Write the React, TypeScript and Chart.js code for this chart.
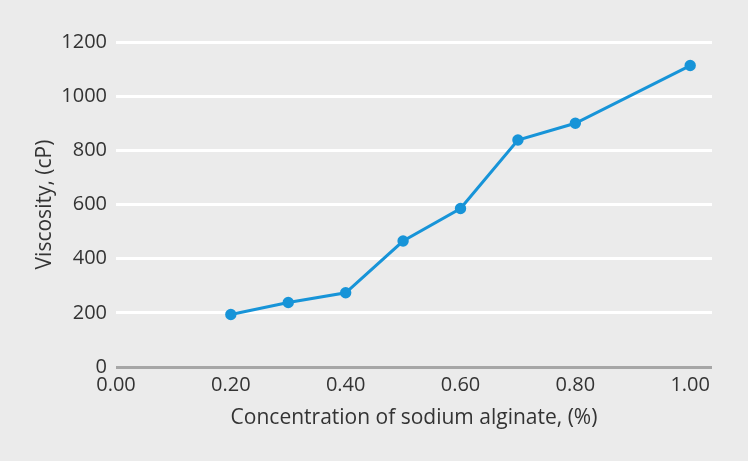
import React, { useEffect, useRef } from "react";
import { Chart, registerables } from "chart.js";

Chart.register(...registerables);

const concentrations = [0.2, 0.3, 0.4, 0.5, 0.6, 0.7, 0.8, 1.0];
const viscosity = [194, 238, 274, 465, 585, 838, 900, 1113];
const xTicks = [0, 0.2, 0.4, 0.6, 0.8, 1.0];
const yTicks = [0, 200, 400, 600, 800, 1000, 1200];

const FONT = "'Open Sans', sans-serif";

export default function App() {
  const ref = useRef<HTMLCanvasElement | null>(null);
  useEffect(() => {
    document.body.style.margin = "0";
    const bg = {
      id: "bg",
      beforeDraw(chart: any) {
        const c = chart.ctx;
        c.save();
        c.fillStyle = "#ebebeb";
        c.fillRect(0, 0, chart.width, chart.height);
        c.restore();
      },
    };
    const chart = new Chart(ref.current as HTMLCanvasElement, {
      type: "line",
      data: {
        datasets: [
          {
            data: concentrations.map((x, i) => ({ x, y: viscosity[i] })),
            borderColor: "#1794d8",
            backgroundColor: "#1794d8",
            borderWidth: 3,
            pointRadius: 4.2,
            pointHoverRadius: 4.2,
            tension: 0,
          },
        ],
      },
      options: {
        animation: false,
        responsive: false,
        layout: { padding: { top: 42, right: 36, left: 0, bottom: 0 } },
        plugins: { legend: { display: false }, tooltip: { enabled: false } },
        scales: {
          x: {
            type: "linear",
            min: 0,
            max: 1.038,
            afterBuildTicks: (s: any) => {
              s.ticks = xTicks.map((v) => ({ value: v }));
            },
            afterFit: (s: any) => {
              s.height = 94;
            },
            grid: { display: false, drawTicks: false },
            border: { display: false },
            ticks: {
              padding: 6,
              color: "#333333",
              font: { family: FONT, size: 20 },
              callback: (v: any) => Number(v).toFixed(2),
            },
            title: {
              display: true,
              text: "Concentration of sodium alginate, (%)",
              color: "#333333",
              font: { family: FONT, size: 21 },
              padding: { top: 0, bottom: 30 },
            },
          },
          y: {
            min: 0,
            max: 1200,
            afterBuildTicks: (s: any) => {
              s.ticks = yTicks.map((v) => ({ value: v }));
            },
            afterFit: (s: any) => {
              s.width = 116;
            },
            grid: {
              drawTicks: false,
              lineWidth: 3,
              color: (c: any) => (c.tick && c.tick.value === 0 ? "#a6a6a6" : "#ffffff"),
            },
            border: { display: false },
            ticks: {
              padding: 9,
              color: "#333333",
              font: { family: FONT, size: 20 },
              callback: (v: any) => String(v),
            },
            title: {
              display: true,
              text: "Viscosity, (cP)",
              color: "#333333",
              font: { family: FONT, size: 21 },
              padding: { top: 32, bottom: 0 },
            },
          },
        },
      },
      plugins: [bg],
    } as any);
    return () => chart.destroy();
  }, []);
  return <canvas ref={ref} width={748} height={461} style={{ display: "block" }} />;
}
